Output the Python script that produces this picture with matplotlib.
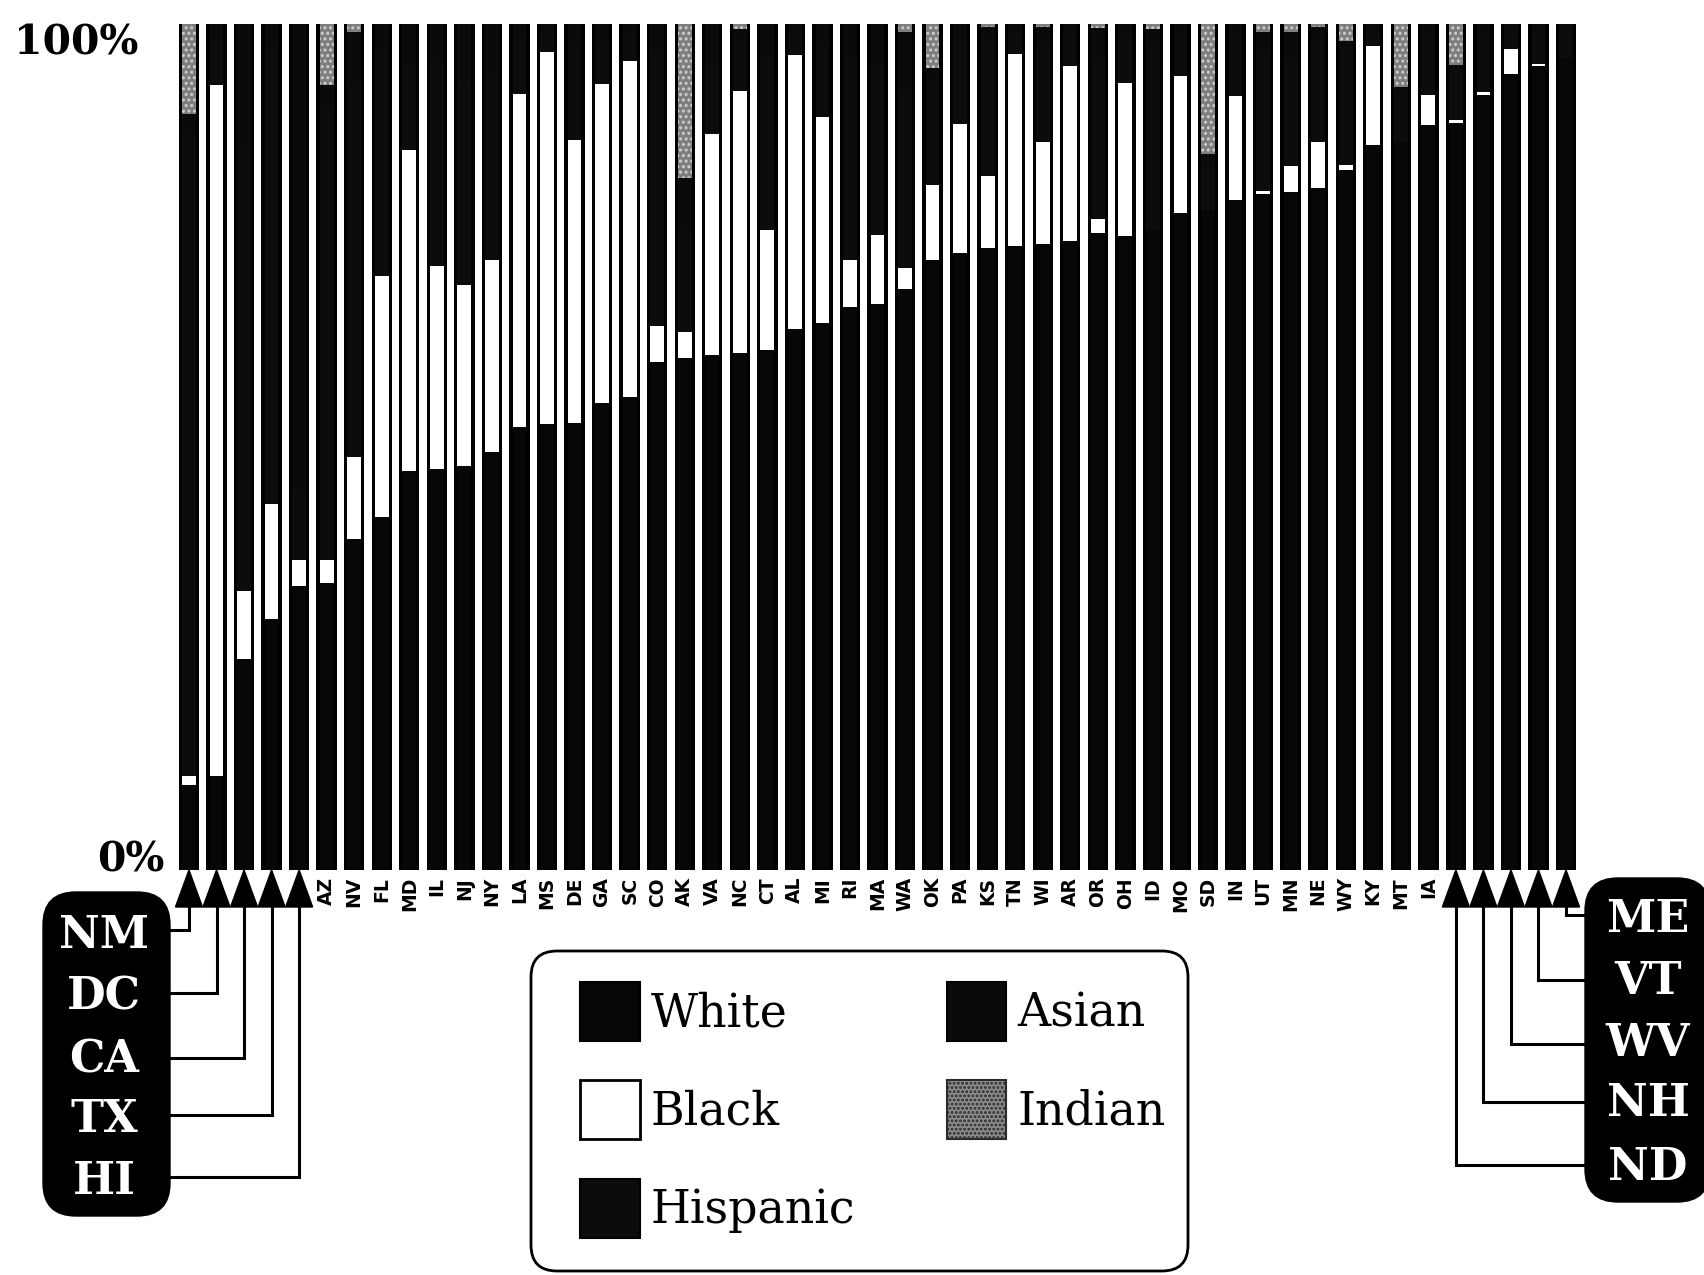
import numpy as np
import matplotlib
matplotlib.use("Agg")
import matplotlib.pyplot as plt
from matplotlib.patches import Patch, FancyBboxPatch, Polygon

states = ["NM", "DC", "CA", "TX", "HI", "AZ", "NV", "FL", "MD", "IL", "NJ", "NY", "LA",
          "MS", "DE", "GA", "SC", "CO", "AK", "VA", "NC", "CT", "AL", "MI", "RI", "MA",
          "WA", "OK", "PA", "KS", "TN", "WI", "AR", "OR", "OH", "ID", "MO", "SD", "IN",
          "UT", "MN", "NE", "WY", "KY", "MT", "IA", "ND", "NH", "WV", "VT", "ME"]

# percent shares (Hispanic / Asian can't be told apart, estimated)
white = [10.0, 11.1, 24.9, 29.7, 33.6, 33.9, 39.1, 41.7, 47.2, 47.4, 47.7, 49.4, 52.4,
         52.7, 52.8, 55.2, 55.9, 60.0, 60.5, 60.9, 61.1, 61.5, 64.0, 64.7, 66.5, 66.9,
         68.7, 72.1, 72.9, 73.5, 73.7, 74.0, 74.3, 75.3, 75.0, 75.6, 77.7, 78.0, 79.2,
         79.9, 80.1, 80.6, 82.8, 85.7, 86.0, 88.1, 88.3, 91.6, 94.1, 95.0, 96.0]
black = [1.1, 81.7, 8.1, 13.6, 3.1, 2.8, 9.7, 28.5, 37.9, 24.0, 21.5, 22.7, 39.3,
         44.0, 33.5, 37.7, 39.7, 4.3, 3.1, 26.1, 31.0, 14.1, 32.3, 24.3, 5.6, 8.2,
         2.5, 8.9, 15.3, 8.5, 22.8, 12.1, 20.7, 1.7, 18.0, 0.0, 16.1, 0.0, 12.3,
         0.4, 3.1, 5.4, 0.5, 11.7, 0.0, 3.5, 0.3, 0.4, 2.9, 0.3, 0.0]
hispanic = [76.0, 5.2, 52.0, 54.0, 8.3, 53.0, 44.0, 27.0, 10.0, 24.0, 24.0, 22.0, 6.5,
            2.5, 11.0, 5.0, 3.3, 32.0, 12.0, 8.5, 6.0, 20.5, 2.9, 8.6, 24.0, 20.0,
            21.0, 12.0, 10.0, 15.5, 2.6, 11.8, 4.2, 19.0, 5.6, 22.0, 4.8, 5.2, 7.5,
            16.0, 12.5, 12.0, 14.0, 2.0, 6.0, 7.0, 6.0, 7.0, 2.6, 4.0, 3.3]
asian = [2.3, 2.0, 15.0, 2.7, 55.0, 3.1, 6.2, 2.8, 4.9, 4.6, 6.8, 5.9, 1.8,
         0.8, 2.7, 2.1, 1.1, 3.7, 6.2, 4.5, 1.3, 3.9, 0.8, 2.4, 3.9, 4.9,
         6.8, 1.8, 1.8, 2.2, 0.9, 1.8, 0.8, 3.5, 1.4, 1.8, 1.4, 1.4, 1.0,
         2.7, 3.3, 1.7, 0.7, 0.6, 0.6, 1.4, 0.5, 1.0, 0.4, 0.7, 0.7]
indian = [10.6, 0.0, 0.0, 0.0, 0.0, 7.2, 1.0, 0.0, 0.0, 0.0, 0.0, 0.0, 0.0,
          0.0, 0.0, 0.0, 0.0, 0.0, 18.2, 0.0, 0.6, 0.0, 0.0, 0.0, 0.0, 0.0,
          1.0, 5.2, 0.0, 0.3, 0.0, 0.3, 0.0, 0.5, 0.0, 0.6, 0.0, 15.4, 0.0,
          1.0, 1.0, 0.3, 2.0, 0.0, 7.4, 0.0, 4.9, 0.0, 0.0, 0.0, 0.0]

left_group = ["NM", "DC", "CA", "TX", "HI"]
right_group = ["ME", "VT", "WV", "NH", "ND"]

W, H = 1704, 1275
fig = plt.figure(figsize=(W / 100, H / 100), dpi=100)

# overlay in pixel coords for the callout boxes, arrows and legend frame
ov = fig.add_axes([0, 0, 1, 1])
ov.set_xlim(0, W)
ov.set_ylim(H, 0)
ov.axis("off")

ax = fig.add_axes([175.2 / W, (H - 870) / H, 1404.6 / W, 846 / H])
ax.set_zorder(2)
ax.patch.set_alpha(0)

x = np.arange(len(states))
segs = [(white, "#070707", None), (black, "white", None), (hispanic, "#0c0c0c", None),
        (asian, "#0a0a0a", None), (indian, "#7e7e7e", "...")]
total = np.sum([np.array(s[0]) for s in segs], axis=0)

plt.rcParams["hatch.linewidth"] = 1.4
ax.bar(x, total, width=0.74, color="black", linewidth=0)
bottom = np.zeros(len(states))
for vals, col, hatch in segs:
    ax.bar(x, vals, width=0.5, bottom=bottom, color=col, hatch=hatch,
           edgecolor="#cfcfcf", linewidth=0)
    bottom += np.array(vals)

ax.set_xlim(-0.5, len(states) - 0.5)
ax.set_ylim(0, 100)
for s in ax.spines.values():
    s.set_visible(False)
ax.set_yticks([])
mid = [i for i, s in enumerate(states) if s not in left_group + right_group]
ax.set_xticks(mid)
ax.set_xticklabels([states[i] for i in mid], rotation=90, fontsize=13.5,
                   fontweight="bold", family="DejaVu Sans")
ax.tick_params(axis="x", length=0, pad=5)

ax.text(-0.0265, 97.75, "100%", transform=ax.get_yaxis_transform(), ha="right",
        va="center", fontsize=29.5, fontweight="bold", family="DejaVu Serif")
ax.text(-0.0073, 1.1, "0%", transform=ax.get_yaxis_transform(), ha="right",
        va="center", fontsize=29.5, fontweight="bold", family="DejaVu Serif")


def bar_px(name):
    px, py = ax.transData.transform((states.index(name), 0))
    return px, H - py


def arrow(name, hy, box_x):
    bx, by = bar_px(name)
    base = by + 37
    ov.add_patch(Polygon([(bx, by), (bx - 13.5, base), (bx + 13.5, base)],
                         closed=True, color="black"))
    ov.plot([bx, bx, box_x], [base - 2, hy, hy], color="black", lw=2.2,
            solid_joinstyle="miter")


# left callout
ov.add_patch(FancyBboxPatch((43, 892), 127, 324, boxstyle="round,pad=0,rounding_size=33",
                            fc="black", ec="black"))
left_text_y = [935, 997, 1060, 1120, 1182]
left_line_y = [930, 993, 1058, 1115, 1177]
for name, ty, ly in zip(left_group, left_text_y, left_line_y):
    ov.text(104, ty, name, color="white", ha="center", va="center", fontsize=32,
            fontweight="bold", family="DejaVu Serif")
    arrow(name, ly, 170)

# right callout
ov.add_patch(FancyBboxPatch((1585, 878), 125, 324, boxstyle="round,pad=0,rounding_size=33",
                            fc="black", ec="black"))
right_text_y = [920, 982, 1043, 1103, 1167]
right_line_y = [915, 980, 1044, 1102, 1165]
for name, ty, ly in zip(right_group, right_text_y, right_line_y):
    ov.text(1648, ty, name, color="white", ha="center", va="center", fontsize=32,
            fontweight="bold", family="DejaVu Serif")
    arrow(name, ly, 1585)

# legend frame drawn separately so the inner padding can follow the original
ov.add_patch(FancyBboxPatch((531, 951), 657, 320, boxstyle="round,pad=0,rounding_size=26",
                            fc="white", ec="black", lw=2))
handles = [Patch(facecolor="#070707", edgecolor="black", linewidth=1.5),
           Patch(facecolor="white", edgecolor="black", linewidth=2),
           Patch(facecolor="#0c0c0c", edgecolor="black", linewidth=1.5),
           Patch(facecolor="#0a0a0a", edgecolor="black", linewidth=1.5),
           Patch(facecolor="#8c8c8c", edgecolor="#2a2a2a", hatch="....", linewidth=1.5)]
leg = fig.legend(handles, ["White", "Black", "Hispanic", "Asian", "Indian"], ncol=2,
                 loc="upper left", bbox_to_anchor=(580 / W, 1 - 982 / H),
                 borderaxespad=0, borderpad=0, frameon=False,
                 prop={"family": "DejaVu Serif", "size": 33},
                 handlelength=1.3, handleheight=1.6, labelspacing=0.86,
                 handletextpad=0.24, columnspacing=2.0)
leg.set_zorder(5)

fig.savefig("out.png", dpi=100)
